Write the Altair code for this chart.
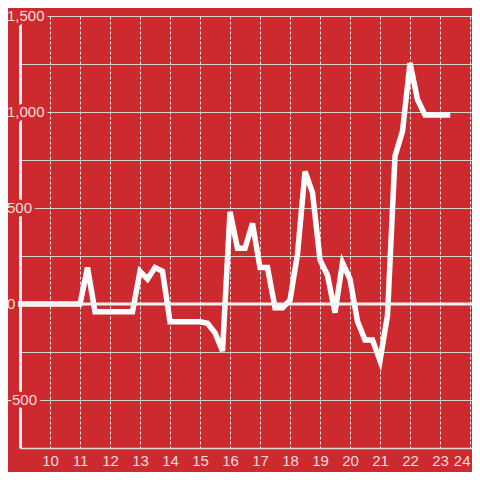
import altair as alt
import pandas as pd

# hours of the day (x) and value (y)
hours = [9.0, 9.25, 9.5, 9.75, 10.0, 10.25, 10.5, 10.75, 11.0, 11.25,
         11.5, 11.75, 12.0, 12.25, 12.5, 12.75, 13.0, 13.25, 13.5, 13.75,
         14.0, 14.25, 14.5, 14.75, 15.0, 15.25, 15.5, 15.75, 16.0, 16.25,
         16.5, 16.75, 17.0, 17.25, 17.5, 17.75, 18.0, 18.25, 18.5, 18.75,
         19.0, 19.25, 19.5, 19.75, 20.0, 20.25, 20.5, 20.75, 21.0, 21.25,
         21.5, 21.75, 22.0, 22.25, 22.5, 22.75, 23.0, 23.25]
values = [0, 0, 0, 0, 0, 0, 0, 0, 0, 190,
          -40, -40, -40, -40, -40, -40, 170, 130, 190, 170,
          -92, -92, -92, -92, -92, -100, -150, -245, 480, 290,
          290, 420, 190, 190, -20, -20, 20, 260, 690, 580,
          230, 150, -45, 215, 130, -90, -188, -188, -295, -60,
          770, 900, 1255, 1065, 985, 985, 985, 985]

x_ticks = [10, 11, 12, 13, 14, 15, 16, 17, 18, 19, 20, 21, 22, 23, 24]
y_grid = [-500, -250, 0, 250, 500, 750, 1000, 1250, 1500]
y_label_values = [-500, 0, 500, 1000, 1500]
y_label_texts = ["-500", "0", "500", "1,000", "1,500"]

df = pd.DataFrame({"hour": hours, "value": values})
labels_df = pd.DataFrame({"hour": [9.0] * 5, "value": y_label_values, "t": y_label_texts})
zero_df = pd.DataFrame({"value": [0]})

BG = "#cd2a2f"
LABEL = "#f3dede"
FONT = "Liberation Sans"

x_scale = alt.Scale(domain=[9, 24.0667], nice=False, zero=False)
y_scale = alt.Scale(domain=[-750, 1500], nice=False)

x_axis = alt.Axis(
    values=x_ticks, title=None, ticks=False, tickSize=0, labelPadding=5,
    labelFontSize=15, labelFont=FONT, labelColor=LABEL,
    domainColor="#dddddd", domainWidth=1.5,
    grid=True, gridColor="#e8e8e8", gridDash=[3, 2], gridWidth=1,
    labelOverlap=False, labelFlush=5)
y_axis = alt.Axis(
    values=y_grid, title=None, ticks=False, tickSize=0, labels=False,
    domainColor="#eeeeee", domainWidth=3,
    grid=True, gridColor="#d4d4d4", gridWidth=1.2)

X = alt.X("hour:Q", scale=x_scale, axis=x_axis)
Y = alt.Y("value:Q", scale=y_scale, axis=y_axis)

line = alt.Chart(df).mark_line(
    color="white", strokeWidth=5.5, strokeCap="square", strokeJoin="miter"
).encode(x=X, y=Y)

zero = alt.Chart(zero_df).mark_rule(
    color="#f2f2f2", strokeWidth=3
).encode(y=Y)

label_base = alt.Chart(labels_df).encode(x=X, y=Y, text="t:N")
label_halo = label_base.mark_text(
    align="left", baseline="middle", dx=-13, font=FONT, fontSize=15,
    fill=BG, stroke=BG, strokeWidth=7, strokeJoin="round"
)
label_text = label_base.mark_text(
    align="left", baseline="middle", dx=-13, font=FONT, fontSize=15,
    fill=LABEL
)

chart = alt.layer(line, zero, label_halo, label_text).properties(
    width=452, height=432,
    background=BG,
    padding={"left": 12, "top": 8, "right": 0, "bottom": 24},
    autosize=alt.AutoSizeParams(type="none"),
).configure_view(stroke=None)

chart.save("out.html", embed_options={"renderer": "svg", "actions": False})
